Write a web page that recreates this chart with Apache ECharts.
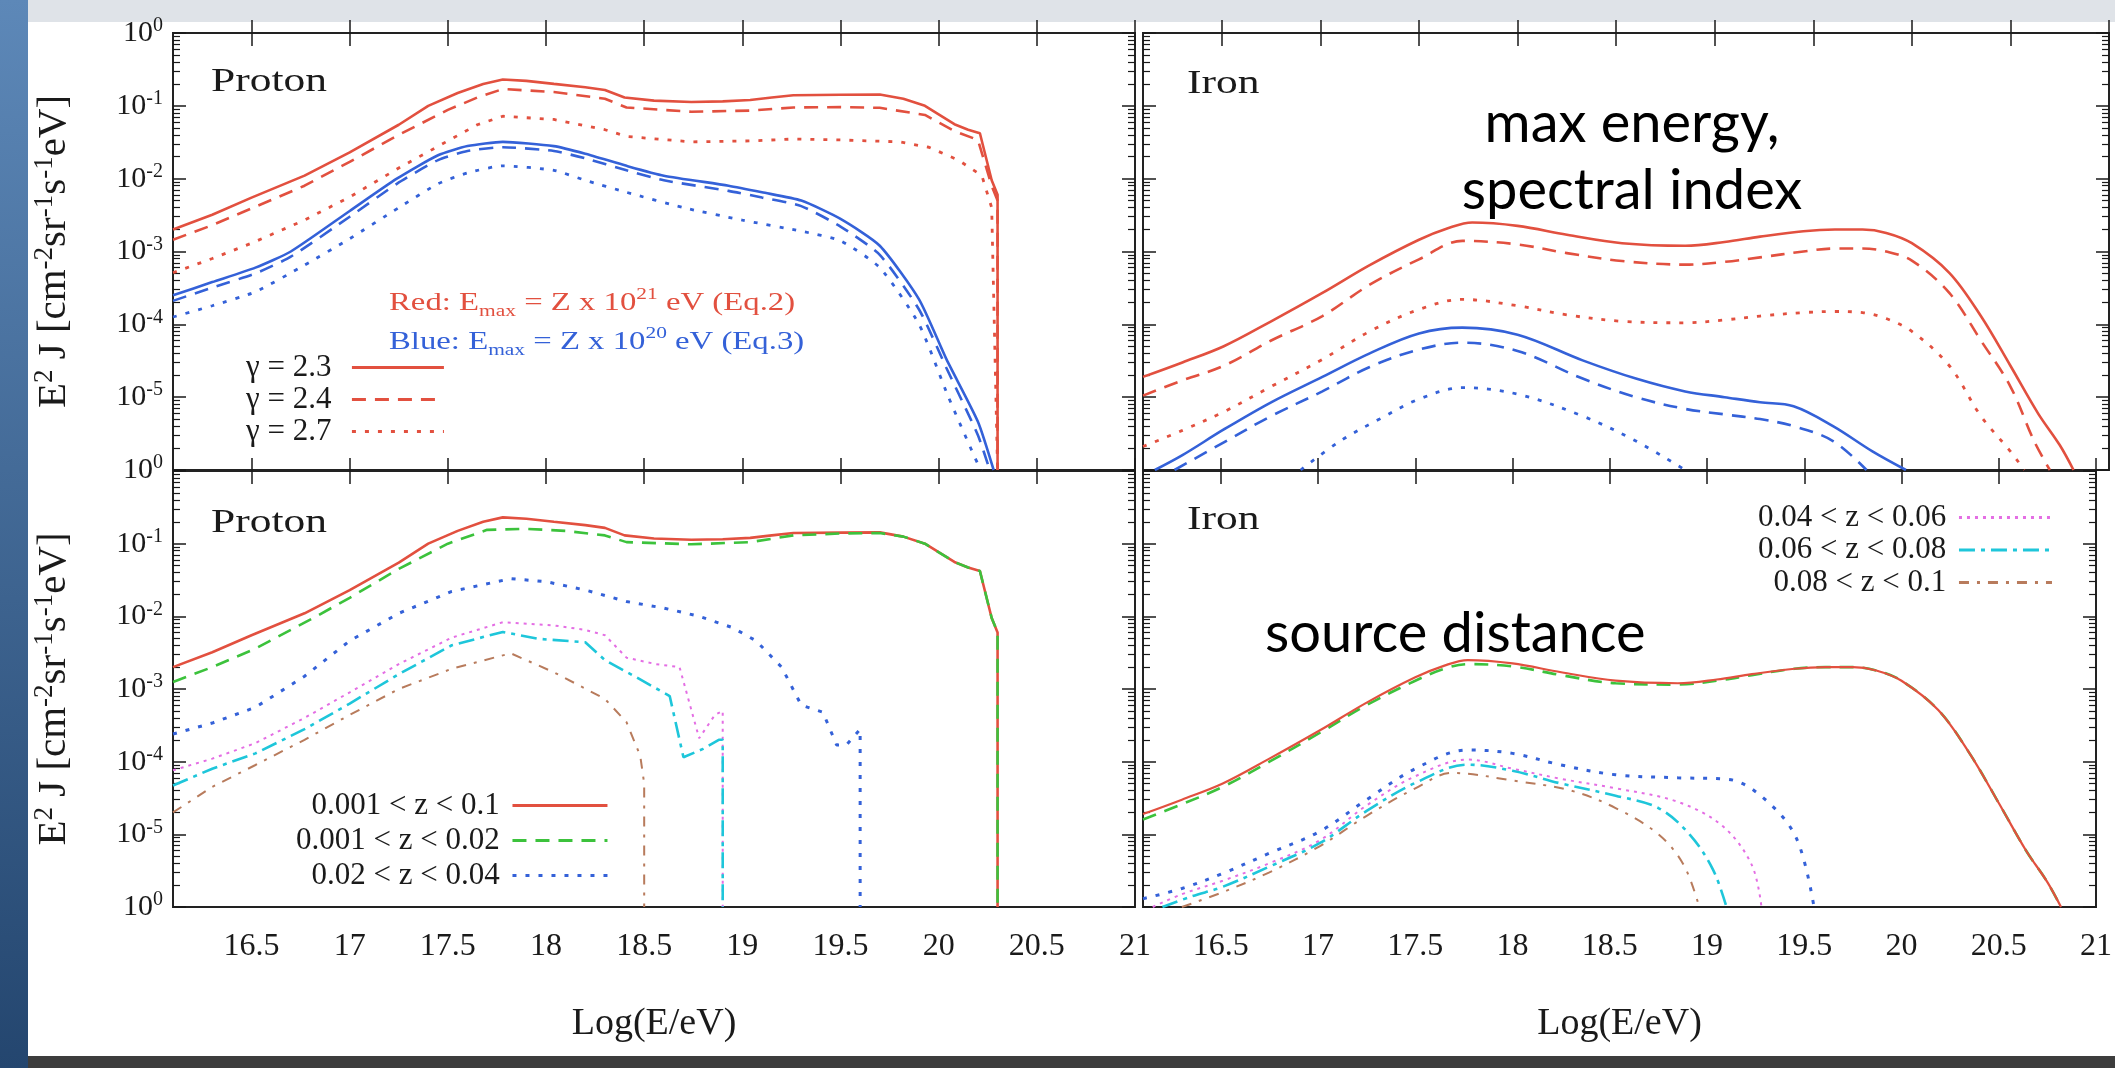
<!DOCTYPE html>
<html><head><meta charset="utf-8">
<script src="https://cdn.jsdelivr.net/npm/echarts@6/dist/echarts.min.js"></script>
<style>html,body{margin:0;padding:0;overflow:hidden;background:#fff}#c{width:2115px;height:1068px}</style>
</head><body><div id="c"></div><script>
// ---------- tick labels / names ----------
const xTicks = [16.5, 17, 17.5, 18, 18.5, 19, 19.5, 20, 20.5, 21];
const xTickLabels = ['16.5', '17', '17.5', '18', '18.5', '19', '19.5', '20', '20.5', '21'];
const yExpTop = ['0', '-1', '-2', '-3', '-4', '-5', '0'];
const yExpBottom = ['', '-1', '-2', '-3', '-4', '-5', '0'];
const gammaNames = ['γ = 2.3', 'γ = 2.4', 'γ = 2.7'];
const zNames = ['0.001 < z < 0.1', '0.001 < z < 0.02', '0.02 < z < 0.04', '0.04 < z < 0.06', '0.06 < z < 0.08', '0.08 < z < 0.1'];

// ---------- Proton, max energy / spectral index (top left) ----------
const pRed23 = [[16.1,2.0e-3],[16.3,3.2e-3],[16.5,5.5e-3],[16.77,1.1e-2],[17.0,2.3e-2],[17.25,5.5e-2],[17.4,0.1],[17.55,0.15],[17.68,0.2],[17.78,0.23],[17.9,0.22],[18.04,0.2],[18.2,0.18],[18.3,0.165],[18.4,0.13],[18.55,0.118],[18.74,0.113],[18.9,0.115],[19.04,0.12],[19.15,0.13],[19.26,0.14],[19.5,0.142],[19.7,0.143],[19.82,0.125],[19.93,0.1],[20.08,0.056],[20.15,0.047],[20.21,0.042],[20.27,0.0095],[20.3,0.006],[20.3,1e-6]];
const pRed24 = [[16.1,1.45e-3],[16.3,2.3e-3],[16.5,3.9e-3],[16.77,8e-3],[17.0,1.7e-2],[17.25,4e-2],[17.5,0.088],[17.65,0.13],[17.78,0.17],[18.04,0.155],[18.3,0.125],[18.41,0.095],[18.74,0.083],[19.04,0.086],[19.26,0.095],[19.5,0.096],[19.7,0.094],[19.93,0.075],[20.08,0.045],[20.2,0.034],[20.27,0.008],[20.3,0.005],[20.3,1e-6]];
const pRed27 = [[16.1,5.1e-4],[16.3,8e-4],[16.5,1.3e-3],[16.77,2.7e-3],[17.0,5.6e-3],[17.25,1.4e-2],[17.5,3.3e-2],[17.65,0.055],[17.78,0.072],[18.04,0.065],[18.3,0.047],[18.41,0.038],[18.74,0.032],[19.04,0.033],[19.26,0.035],[19.5,0.034],[19.8,0.032],[19.95,0.027],[20.1,0.018],[20.22,0.011],[20.27,0.004],[20.3,1e-6]];
const pBlue23 = [[16.1,2.5e-4],[16.3,3.8e-4],[16.52,6e-4],[16.7,1e-3],[17.0,3.6e-3],[17.24,1e-2],[17.45,0.021],[17.6,0.028],[17.78,0.032],[18.04,0.028],[18.2,0.022],[18.41,0.015],[18.6,0.011],[18.93,8e-3],[19.1,6.5e-3],[19.3,5e-3],[19.5,2.8e-3],[19.7,1.2e-3],[19.9,2.2e-4],[20.04,3.3e-5],[20.2,4.6e-6],[20.28,1e-6]];
const pBlue24 = [[16.1,2.1e-4],[16.3,3.2e-4],[16.52,5e-4],[16.7,8.5e-4],[17.0,3e-3],[17.24,8.5e-3],[17.45,0.018],[17.6,0.024],[17.78,0.027],[18.04,0.024],[18.2,0.019],[18.41,0.013],[18.6,9.5e-3],[18.93,6.8e-3],[19.1,5.5e-3],[19.3,4.2e-3],[19.5,2.2e-3],[19.7,9e-4],[19.9,1.6e-4],[20.04,2.5e-5],[20.2,3e-6],[20.26,1e-6]];
const pBlue27 = [[16.1,1.26e-4],[16.3,1.8e-4],[16.52,2.8e-4],[16.77,6.5e-4],[17.0,1.5e-3],[17.25,4e-3],[17.45,8.5e-3],[17.6,0.012],[17.78,0.015],[18.04,0.013],[18.2,0.0095],[18.41,6.5e-3],[18.7,4e-3],[19.0,2.7e-3],[19.3,1.9e-3],[19.5,1.4e-3],[19.7,6e-4],[19.9,1e-4],[20.05,1e-5],[20.2,1.2e-6],[20.22,1e-6]];

// ---------- Iron, max energy / spectral index (top right) ----------
const iRed23 = [[16.1,1.9e-5],[16.3,3.0e-5],[16.51,5e-5],[16.75,1.1e-4],[17.01,2.7e-4],[17.25,6.5e-4],[17.5,1.45e-3],[17.65,2.1e-3],[17.77,2.5e-3],[18.0,2.25e-3],[18.25,1.7e-3],[18.53,1.3e-3],[18.85,1.2e-3],[19.05,1.35e-3],[19.23,1.6e-3],[19.45,1.9e-3],[19.61,2.0e-3],[19.75,2.0e-3],[19.87,1.8e-3],[20.0,1.3e-3],[20.19,5.1e-4],[20.35,1.3e-4],[20.5,2.7e-5],[20.64,6e-6],[20.75,2.2e-6],[20.82,1e-6]];
const iRed24 = [[16.1,1.05e-5],[16.3,1.7e-5],[16.51,2.7e-5],[16.75,6e-5],[17.01,1.3e-4],[17.25,3.5e-4],[17.5,7.8e-4],[17.72,1.4e-3],[18.0,1.25e-3],[18.25,9.5e-4],[18.53,7.4e-4],[18.85,6.6e-4],[19.05,7.2e-4],[19.23,8.3e-4],[19.45,1.0e-3],[19.61,1.1e-3],[19.75,1.1e-3],[19.87,1.0e-3],[20.0,7.5e-4],[20.19,2.7e-4],[20.35,6e-5],[20.5,1.4e-5],[20.62,2.5e-6],[20.7,1e-6]];
const iRed27 = [[16.1,2.1e-6],[16.3,3.5e-6],[16.51,6.3e-6],[16.75,1.4e-5],[17.01,3.3e-5],[17.25,8e-5],[17.5,1.6e-4],[17.72,2.2e-4],[18.0,1.8e-4],[18.25,1.35e-4],[18.53,1.1e-4],[18.85,1.05e-4],[19.05,1.15e-4],[19.23,1.3e-4],[19.45,1.45e-4],[19.61,1.5e-4],[19.75,1.45e-4],[19.87,1.2e-4],[20.0,8e-5],[20.19,2.7e-5],[20.35,5.5e-6],[20.5,1.8e-6],[20.57,1e-6]];
const iBlue23 = [[16.16,1e-6],[16.3,1.6e-6],[16.51,3.6e-6],[16.75,8.5e-6],[17.01,1.9e-5],[17.25,4e-5],[17.5,7.5e-5],[17.72,9e-5],[18.0,7.2e-5],[18.33,3.2e-5],[18.6,1.8e-5],[18.85,1.2e-5],[19.05,1e-5],[19.23,8.5e-6],[19.4,7.5e-6],[19.6,4e-6],[19.8,1.8e-6],[19.97,1e-6]];
const iBlue24 = [[16.26,1e-6],[16.51,2.4e-6],[16.75,5.5e-6],[17.01,1.2e-5],[17.25,2.6e-5],[17.5,4.5e-5],[17.72,5.6e-5],[18.0,4.3e-5],[18.33,1.8e-5],[18.6,1e-5],[18.85,6.9e-6],[19.05,5.8e-6],[19.23,5e-6],[19.4,4e-6],[19.6,2.5e-6],[19.77,1e-6]];
const iBlue27 = [[16.9,1e-6],[17.1,2.5e-6],[17.3,5e-6],[17.5,9.4e-6],[17.72,1.35e-5],[18.0,1.1e-5],[18.33,5.5e-6],[18.6,2.5e-6],[18.85,1e-6]];

// ---------- Proton, source distance (bottom left) ----------
const bpRed = pRed23;
const bpGreen = [[16.1,1.25e-3],[16.3,2e-3],[16.52,3.6e-3],[16.83,1e-2],[17.0,1.8e-2],[17.25,4.5e-2],[17.5,0.1],[17.7,0.155],[17.9,0.16],[18.1,0.15],[18.3,0.13],[18.41,0.105],[18.74,0.098],[19.04,0.105],[19.26,0.13],[19.5,0.138],[19.7,0.14],[19.82,0.125],[19.93,0.1],[20.08,0.056],[20.15,0.047],[20.21,0.042],[20.27,0.0095],[20.3,0.006],[20.3,1e-6]];
const bpBlue = [[16.1,2.4e-4],[16.3,3.4e-4],[16.52,5.6e-4],[16.77,1.5e-3],[17.0,4.6e-3],[17.25,1.1e-2],[17.52,0.022],[17.82,0.033],[18.0,0.03],[18.2,0.023],[18.41,0.016],[18.6,0.013],[18.78,0.01],[18.95,7e-3],[19.07,4.6e-3],[19.2,2e-3],[19.3,6e-4],[19.41,4.8e-4],[19.48,1.7e-4],[19.53,1.7e-4],[19.6,2.8e-4],[19.6,1e-6]];
const bpMag = [[16.1,7.6e-5],[16.3,1.1e-4],[16.52,1.8e-4],[16.77,4e-4],[17.0,9e-4],[17.25,2.2e-3],[17.52,5.1e-3],[17.78,8.3e-3],[18.04,7.5e-3],[18.2,6.5e-3],[18.3,5.5e-3],[18.41,2.7e-3],[18.56,2.2e-3],[18.68,2e-3],[18.78,2.1e-4],[18.86,4.4e-4],[18.9,5e-4],[18.9,1e-6]];
const bpCyan = [[16.1,4.7e-5],[16.3,8e-5],[16.52,1.3e-4],[16.77,2.8e-4],[17.0,6.3e-4],[17.25,1.6e-3],[17.52,4e-3],[17.78,6.1e-3],[17.96,4.9e-3],[18.2,4.4e-3],[18.3,2.5e-3],[18.45,1.5e-3],[18.63,8e-4],[18.7,1.15e-4],[18.8,1.5e-4],[18.88,2e-4],[18.9,2e-4],[18.9,1e-6]];
const bpBrown = [[16.1,2e-5],[16.3,4.5e-5],[16.52,9e-5],[16.77,2e-4],[17.0,4.4e-4],[17.25,1e-3],[17.52,1.9e-3],[17.82,3.1e-3],[18.04,1.7e-3],[18.3,7.3e-4],[18.41,3.5e-4],[18.48,1.2e-4],[18.5,5e-5],[18.5,1e-6]];

// ---------- Iron, source distance (bottom right) ----------
const biRed = iRed23;
const biGreen = [[16.1,1.6e-5],[16.3,2.6e-5],[16.51,4.5e-5],[16.75,1e-4],[17.01,2.5e-4],[17.25,6e-4],[17.5,1.3e-3],[17.65,1.9e-3],[17.77,2.2e-3],[18.0,2.05e-3],[18.25,1.55e-3],[18.53,1.2e-3],[18.85,1.15e-3],[19.05,1.3e-3],[19.23,1.55e-3],[19.45,1.9e-3],[19.61,2.0e-3],[19.75,2.0e-3],[19.87,1.8e-3],[20.0,1.3e-3],[20.19,5.1e-4],[20.35,1.3e-4],[20.5,2.7e-5],[20.64,6e-6],[20.75,2.2e-6],[20.82,1e-6]];
const biBlue = [[16.1,1.3e-6],[16.3,1.8e-6],[16.51,2.9e-6],[16.75,5.5e-6],[17.01,1.1e-5],[17.25,3e-5],[17.5,8e-5],[17.77,1.45e-4],[18.0,1.3e-4],[18.25,9e-5],[18.53,6.6e-5],[18.85,6e-5],[19.11,5.7e-5],[19.3,3e-5],[19.46,8.8e-6],[19.55,1e-6]];
const biMag = [[16.15,1e-6],[16.3,1.5e-6],[16.51,2.3e-6],[16.75,4e-6],[17.01,8.3e-6],[17.25,2.5e-5],[17.5,6.3e-5],[17.77,1.07e-4],[18.0,8e-5],[18.25,5.8e-5],[18.53,4.3e-5],[18.85,2.8e-5],[19.08,1.3e-5],[19.23,3.8e-6],[19.28,1e-6]];
const biCyan = [[16.2,1e-6],[16.35,1.4e-6],[16.51,1.9e-6],[16.75,3.6e-6],[17.01,7.6e-6],[17.25,2.1e-5],[17.5,5.1e-5],[17.77,9.1e-5],[18.0,7.5e-5],[18.25,5e-5],[18.53,3.4e-5],[18.75,2.3e-5],[18.91,1e-5],[19.03,3.3e-6],[19.1,1e-6]];
const biBrown = [[16.3,1e-6],[16.51,1.6e-6],[16.75,3e-6],[17.01,6.9e-6],[17.25,1.8e-5],[17.5,4.3e-5],[17.69,7e-5],[18.0,5.5e-5],[18.3,4e-5],[18.53,2.3e-5],[18.75,1e-5],[18.88,3.8e-6],[18.96,1e-6]];

// ---------- styling ----------
const C = {red:'#e2503f', blue:'#3461d8', green:'#3cc23c', mag:'#e46ee4', cyan:'#1ec6da', brown:'#b87b5c', ink:'#1a1a1a'};
const SERIF = '"Liberation Serif","Times New Roman",serif';
const DASH = {solid:'solid', dashed:[14, 9], dotted:[4, 9], fine:[3, 5], dashdot:[16, 6, 4, 6], dashdot2:[10, 8, 3, 8]};
const grids = [
  {left:173, top:33, width:962, height:437},
  {left:173, top:471, width:962, height:436},
  {left:1143, top:33, width:966, height:437},
  {left:1143, top:471, width:966, height:436}
];
const minorVals = [];
for (let n = -6; n < 0; n++) for (let k = 2; k <= 9; k++) minorVals.push(n + Math.log10(k));

const xAxes = [], yAxes = [];
grids.forEach((g, i) => {
  const bottomRow = (i === 1 || i === 3);
  const leftCol = (i === 0 || i === 1);
  const tick = {show:true, inside:true, length:13, customValues:xTicks, lineStyle:{color:C.ink, width:1.5}};
  xAxes.push({gridIndex:i, type:'value', min:16.1, max:21, position:'bottom',
    axisLine:{show:false}, splitLine:{show:false}, axisTick:tick,
    axisLabel:{show:bottomRow, customValues:xTicks, margin:24, fontFamily:SERIF, fontSize:32, color:C.ink,
      formatter:(v)=>{const k = xTicks.indexOf(v); return k >= 0 ? xTickLabels[k] : '';}},
    name: bottomRow ? 'Log(E/eV)' : '', nameLocation:'middle', nameGap:98,
    nameTextStyle:{fontFamily:SERIF, fontSize:38, color:C.ink}});
  xAxes.push({gridIndex:i, type:'value', min:16.1, max:21, position:'top',
    axisLine:{show:false}, splitLine:{show:false}, axisTick:tick, axisLabel:{show:false}});
  const labs = (i === 1) ? yExpBottom : yExpTop;
  const majorTick = {show:true, inside:true, length:13, lineStyle:{color:C.ink, width:1.5}};
  yAxes.push({gridIndex:i, type:'log', logBase:10, min:1e-6, max:1, position:'left',
    axisLine:{show:false}, splitLine:{show:false}, axisTick:majorTick, minorTick:{show:false},
    axisLabel:{show:leftCol, margin:10,
      formatter:(v)=>{const e = v > 0 ? Math.round(Math.log10(v)) : Math.round(v); const s = labs[-e]; return (s === undefined || s === '') ? '' : '{b|10}{s|' + s + '}';},
      rich:{b:{fontFamily:SERIF, fontSize:30, color:C.ink, lineHeight:34}, s:{fontFamily:SERIF, fontSize:20, color:C.ink, verticalAlign:'top', lineHeight:20}}},
    name: leftCol ? '{a|E}{s|2}{a| J [cm}{s|-2}{a|sr}{s|-1}{a|s}{s|-1}{a|eV]}' : '',
    nameLocation:'middle', nameRotate:90, nameGap:95,
    nameTextStyle:{rich:{a:{fontFamily:SERIF, fontSize:41, color:C.ink, lineHeight:47}, s:{fontFamily:SERIF, fontSize:27, color:C.ink, verticalAlign:'top', lineHeight:27}}}});
  yAxes.push({gridIndex:i, type:'log', logBase:10, min:1e-6, max:1, position:'right',
    axisLine:{show:false}, splitLine:{show:false}, axisTick:majorTick, axisLabel:{show:false}});
  const minorTick = {show:true, inside:true, length:7, customValues:minorVals, lineStyle:{color:C.ink, width:1.2}};
  yAxes.push({gridIndex:i, type:'value', min:-6, max:0, position:'left', offset:0,
    axisLine:{show:false}, splitLine:{show:false}, axisTick:minorTick, axisLabel:{show:false}});
  yAxes.push({gridIndex:i, type:'value', min:-6, max:0, position:'right', offset:0,
    axisLine:{show:false}, splitLine:{show:false}, axisTick:minorTick, axisLabel:{show:false}});
});

function line(name, data, g, color, dash, width, smooth) {
  return {type:'line', name:name, data:data, xAxisIndex:2*g, yAxisIndex:4*g, symbol:'none', showSymbol:false,
    smooth: smooth || false, clip:true, silent:true, animation:false,
    lineStyle:{color:color, width:width, type:dash, cap:'butt'}, itemStyle:{color:color}};
}
const series = [
  line(gammaNames[0], pRed23, 0, C.red, DASH.solid, 2.6),
  line(gammaNames[1], pRed24, 0, C.red, DASH.dashed, 2.6),
  line(gammaNames[2], pRed27, 0, C.red, DASH.dotted, 2.8),
  line(gammaNames[0], pBlue23, 0, C.blue, DASH.solid, 2.6, 0.2),
  line(gammaNames[1], pBlue24, 0, C.blue, DASH.dashed, 2.6, 0.2),
  line(gammaNames[2], pBlue27, 0, C.blue, DASH.dotted, 2.8, 0.2),
  line(gammaNames[0], iRed23, 2, C.red, DASH.solid, 2.6, 0.35),
  line(gammaNames[1], iRed24, 2, C.red, DASH.dashed, 2.6, 0.35),
  line(gammaNames[2], iRed27, 2, C.red, DASH.dotted, 2.8, 0.35),
  line(gammaNames[0], iBlue23, 2, C.blue, DASH.solid, 2.6, 0.35),
  line(gammaNames[1], iBlue24, 2, C.blue, DASH.dashed, 2.6, 0.35),
  line(gammaNames[2], iBlue27, 2, C.blue, DASH.dotted, 2.8, 0.35),
  line(zNames[0], bpRed, 1, C.red, DASH.solid, 2.6),
  line(zNames[1], bpGreen, 1, C.green, DASH.dashed, 2.6),
  line(zNames[2], bpBlue, 1, C.blue, DASH.dotted, 3),
  line(zNames[3], bpMag, 1, C.mag, DASH.fine, 2),
  line(zNames[4], bpCyan, 1, C.cyan, DASH.dashdot, 2.6),
  line(zNames[5], bpBrown, 1, C.brown, DASH.dashdot2, 2),
  line(zNames[1], biGreen, 3, C.green, DASH.dashed, 2.6, 0.35),
  line(zNames[0], biRed, 3, C.red, DASH.solid, 2.2, 0.35),
  line(zNames[2], biBlue, 3, C.blue, DASH.dotted, 3, 0.35),
  line(zNames[3], biMag, 3, C.mag, DASH.fine, 2, 0.35),
  line(zNames[4], biCyan, 3, C.cyan, DASH.dashdot, 2.6, 0.35),
  line(zNames[5], biBrown, 3, C.brown, DASH.dashdot2, 2, 0.35)
];

const legendBase = {orient:'vertical', align:'right', padding:0, selectedMode:false, itemHeight:26,
  itemStyle:{opacity:0, borderWidth:0}, lineStyle:{width:3.2},
  textStyle:{fontFamily:SERIF, color:C.ink, lineHeight:26}};
const legends = [
  Object.assign({}, legendBase, {data:gammaNames, left:246, top:352, itemWidth:92, itemGap:1,
    formatter:(n)=>n + '  ', textStyle:Object.assign({}, legendBase.textStyle, {fontSize:31})}),
  Object.assign({}, legendBase, {data:zNames.slice(0,3), left:296, top:790, itemWidth:95, itemGap:4,
    formatter:(n)=>n + ' ', textStyle:Object.assign({}, legendBase.textStyle, {fontSize:31})}),
  Object.assign({}, legendBase, {data:zNames.slice(3), left:1758, top:502, itemWidth:93, itemGap:1.5,
    formatter:(n)=>n + ' ', textStyle:Object.assign({}, legendBase.textStyle, {fontSize:31})})
];

const GILL = '"Gill Sans","Lato","Open Sans",sans-serif';
function richColored(color, sz) {
  const s = Math.round(sz * 0.65);
  return {
    a:{fontFamily:SERIF, fontSize:sz, fill:color, lineHeight:sz + 8},
    sub:{fontFamily:SERIF, fontSize:s, fill:color, verticalAlign:'bottom', lineHeight:s + 2},
    sup:{fontFamily:SERIF, fontSize:s, fill:color, verticalAlign:'top', lineHeight:s + 2}
  };
}
const graphics = [
  {type:'rect', z:-100, silent:true, shape:{x:0, y:0, width:2115, height:1068},
    style:{fill:new echarts.graphic.LinearGradient(0, 0, 0, 1, [{offset:0, color:'#5d88b8'}, {offset:1, color:'#24466f'}])}},
  {type:'rect', z:-99, silent:true, shape:{x:28, y:0, width:2087, height:22}, style:{fill:'#dfe3e8'}},
  {type:'rect', z:-99, silent:true, shape:{x:28, y:1056, width:2087, height:12}, style:{fill:'#3d3d3d'}},
  {type:'rect', z:-98, silent:true, shape:{x:28, y:22, width:2087, height:1034}, style:{fill:'#ffffff'}},
  {type:'text', z:50, silent:true, x:211, y:82, scaleX:1.28, style:{text:'Proton', fontFamily:SERIF, fontSize:34, fill:C.ink, align:'left', verticalAlign:'middle'}},
  {type:'text', z:50, silent:true, x:211, y:523, scaleX:1.28, style:{text:'Proton', fontFamily:SERIF, fontSize:34, fill:C.ink, align:'left', verticalAlign:'middle'}},
  {type:'text', z:50, silent:true, x:1187, y:84, scaleX:1.28, style:{text:'Iron', fontFamily:SERIF, fontSize:34, fill:C.ink, align:'left', verticalAlign:'middle'}},
  {type:'text', z:50, silent:true, x:1187, y:520, scaleX:1.28, style:{text:'Iron', fontFamily:SERIF, fontSize:34, fill:C.ink, align:'left', verticalAlign:'middle'}},
  {type:'text', z:50, silent:true, x:389, y:303, scaleX:1.26, style:{text:'{a|Red: E}{sub|max}{a| = Z x 10}{sup|21}{a| eV (Eq.2)}', rich:richColored(C.red, 26), align:'left', verticalAlign:'middle'}},
  {type:'text', z:50, silent:true, x:389, y:342, scaleX:1.26, style:{text:'{a|Blue: E}{sub|max}{a| = Z x 10}{sup|20}{a| eV (Eq.3)}', rich:richColored(C.blue, 26), align:'left', verticalAlign:'middle'}},
  {type:'text', z:50, silent:true, x:1632, y:124, style:{text:'max energy,', fontFamily:GILL, fontSize:56, fill:'#000', align:'center', verticalAlign:'middle'}},
  {type:'text', z:50, silent:true, x:1632, y:191, style:{text:'spectral index', fontFamily:GILL, fontSize:56, fill:'#000', align:'center', verticalAlign:'middle'}},
  {type:'text', z:50, silent:true, x:1265, y:634, style:{text:'source distance', fontFamily:GILL, fontSize:56, fill:'#000', align:'left', verticalAlign:'middle'}}
];

const chart = echarts.init(document.getElementById('c'), null, {renderer:'canvas'});
chart.setOption({
  animation:false,
  backgroundColor:'transparent',
  grid: grids.map(g => Object.assign({show:true, backgroundColor:'#ffffff', borderColor:'#222', borderWidth:2}, g)),
  xAxis: xAxes,
  yAxis: yAxes,
  legend: legends,
  series: series,
  graphic: {elements: graphics}
});
</script></body></html>
